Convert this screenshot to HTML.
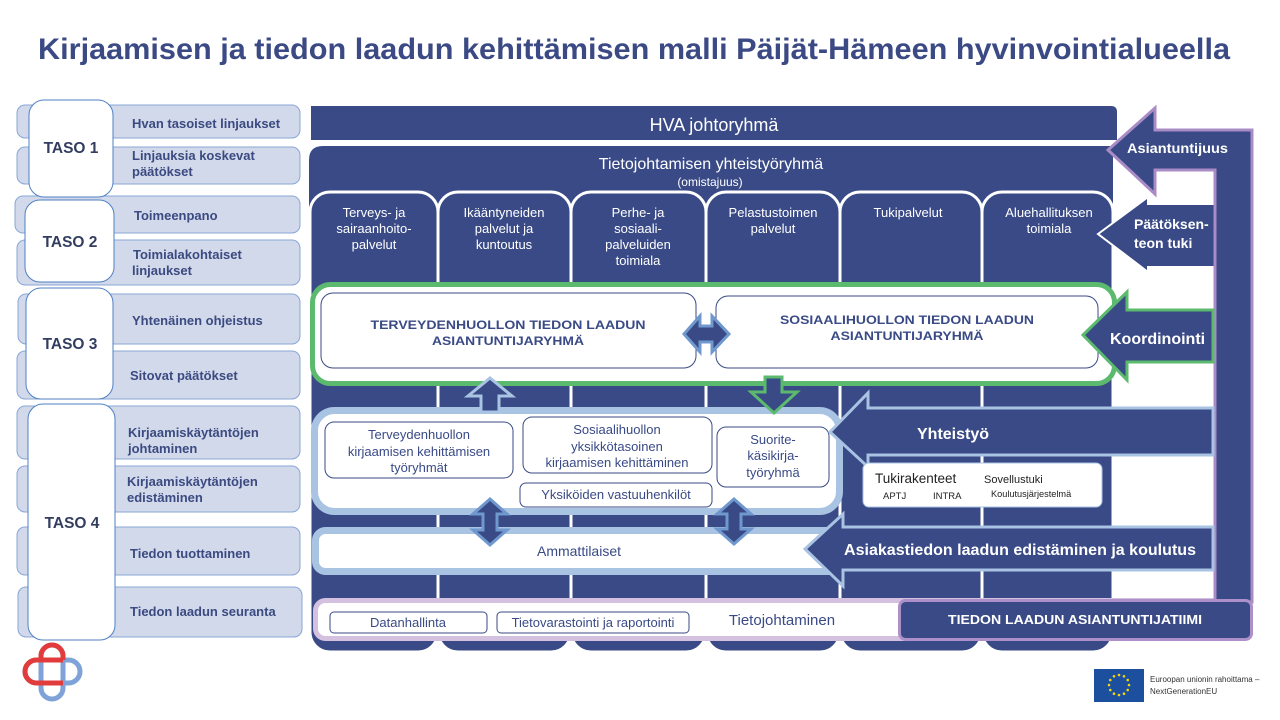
<!DOCTYPE html>
<html>
<head>
<meta charset="utf-8">
<style>
  html,body{margin:0;padding:0;background:#ffffff;}
  svg{display:block;}
  text{font-family:"Liberation Sans", Arial, sans-serif;}
</style>
</head>
<body>
<svg width="1280" height="720" viewBox="0 0 1280 720" xmlns="http://www.w3.org/2000/svg">
  <defs>
    <clipPath id="clipTop"><rect x="0" y="600" width="200" height="60"/></clipPath>
    <clipPath id="clipLeft"><rect x="0" y="600" width="63" height="120"/></clipPath>
  </defs>
  <rect x="0" y="0" width="1280" height="720" fill="#ffffff"/>

  <!-- Title -->
  <text x="38" y="59" font-size="30" font-weight="bold" fill="#3b4a84" textLength="1192" lengthAdjust="spacingAndGlyphs">Kirjaamisen ja tiedon laadun kehittämisen malli Päijät-Hämeen hyvinvointialueella</text>

  <!-- Left rows -->
  <g fill="#d2d9eb" stroke="#88a6d6" stroke-width="1">
    <rect x="17" y="105" width="283" height="33" rx="8"/>
    <rect x="17" y="147" width="283" height="37" rx="8"/>
    <rect x="15" y="196" width="285" height="37" rx="8"/>
    <rect x="17" y="240" width="283" height="45" rx="8"/>
    <rect x="18" y="294" width="282" height="50" rx="8"/>
    <rect x="17" y="351" width="283" height="48" rx="8"/>
    <rect x="17" y="406" width="283" height="53" rx="8"/>
    <rect x="17" y="466" width="283" height="46" rx="8"/>
    <rect x="17" y="527" width="283" height="48" rx="8"/>
    <rect x="18" y="587" width="284" height="50" rx="8"/>
  </g>
  <g font-size="13" font-weight="bold" fill="#3b4a80">
    <text x="132" y="128">Hvan tasoiset linjaukset</text>
    <text x="132" y="160">Linjauksia koskevat</text>
    <text x="132" y="176">päätökset</text>
    <text x="134" y="220">Toimeenpano</text>
    <text x="133" y="259">Toimialakohtaiset</text>
    <text x="132" y="275">linjaukset</text>
    <text x="132" y="325">Yhtenäinen ohjeistus</text>
    <text x="130" y="380">Sitovat päätökset</text>
    <text x="128" y="437">Kirjaamiskäytäntöjen</text>
    <text x="128" y="453">johtaminen</text>
    <text x="127" y="486">Kirjaamiskäytäntöjen</text>
    <text x="127" y="502">edistäminen</text>
    <text x="130" y="558">Tiedon tuottaminen</text>
    <text x="130" y="616">Tiedon laadun seuranta</text>
  </g>

  <!-- TASO boxes -->
  <g fill="#ffffff" stroke="#4f81c4" stroke-width="1">
    <rect x="29" y="100" width="84" height="97" rx="15"/>
    <rect x="25" y="200" width="89" height="82" rx="15"/>
    <rect x="26" y="288" width="87" height="111" rx="15"/>
    <rect x="28" y="404" width="87" height="236" rx="15"/>
  </g>
  <g font-size="15.5" font-weight="bold" fill="#333d60" text-anchor="middle">
    <text x="71" y="153">TASO 1</text>
    <text x="70" y="247">TASO 2</text>
    <text x="70" y="349">TASO 3</text>
    <text x="72" y="528">TASO 4</text>
  </g>

  <!-- Logo -->
  <g fill="none" stroke-width="5">
    <rect x="41" y="645" width="22" height="54" rx="11" stroke="#7fa3d8"/>
    <rect x="25" y="660" width="55" height="23" rx="11.5" stroke="#7fa3d8"/>
    <rect x="41" y="645" width="22" height="54" rx="11" stroke="#e23b3b" clip-path="url(#clipTop)" />
    <rect x="25" y="660" width="55" height="23" rx="11.5" stroke="#e23b3b" clip-path="url(#clipLeft)"/>
  </g>

  <!-- HVA johtoryhmä -->
  <path d="M311,106 H1111 Q1117,106 1117,112 V140 H311 Z" fill="#394a86"/>
  <text x="714" y="131" font-size="18" fill="#ffffff" text-anchor="middle">HVA johtoryhmä</text>

  <!-- Tietojohtamisen box -->
  <path d="M309,160 Q309,146 323,146 H1113 V300 H309 Z" fill="#394a86"/>
  <text x="711" y="169" font-size="16" fill="#ffffff" text-anchor="middle">Tietojohtamisen yhteistyöryhmä</text>
  <text x="710" y="186" font-size="12" fill="#ffffff" text-anchor="middle">(omistajuus)</text>

  <!-- Columns -->
  <g fill="#394a86" stroke="#ffffff" stroke-width="3">
    <rect x="310" y="192" width="128" height="460" rx="20"/>
    <rect x="438" y="192" width="133" height="460" rx="20"/>
    <rect x="571" y="192" width="135" height="460" rx="20"/>
    <rect x="706" y="192" width="134" height="460" rx="20"/>
    <rect x="840" y="192" width="142" height="460" rx="20"/>
    <rect x="982" y="192" width="131" height="460" rx="20"/>
  </g>
  <g font-size="13" fill="#ffffff" text-anchor="middle">
    <text x="374" y="217">Terveys- ja</text>
    <text x="374" y="233">sairaanhoito-</text>
    <text x="374" y="249">palvelut</text>
    <text x="504" y="217">Ikääntyneiden</text>
    <text x="504" y="233">palvelut ja</text>
    <text x="504" y="249">kuntoutus</text>
    <text x="638" y="217">Perhe- ja</text>
    <text x="638" y="233">sosiaali-</text>
    <text x="638" y="249">palveluiden</text>
    <text x="638" y="265">toimiala</text>
    <text x="773" y="217">Pelastustoimen</text>
    <text x="773" y="233">palvelut</text>
    <text x="908" y="217">Tukipalvelut</text>
    <text x="1049" y="217">Aluehallituksen</text>
    <text x="1049" y="233">toimiala</text>
  </g>

  <!-- Green box (TASO 3) -->
  <rect x="312.5" y="284.5" width="802" height="99" rx="18" fill="#ffffff" stroke="#5cba6f" stroke-width="5"/>
  <rect x="321" y="293" width="375" height="75" rx="12" fill="#ffffff" stroke="#394a86" stroke-width="1"/>
  <rect x="716" y="296" width="382" height="72" rx="12" fill="#ffffff" stroke="#394a86" stroke-width="1"/>
  <g font-size="12" font-weight="bold" fill="#394a86" text-anchor="middle">
    <text x="508" y="329" textLength="275" lengthAdjust="spacingAndGlyphs">TERVEYDENHUOLLON TIEDON LAADUN</text>
    <text x="508" y="345" textLength="152" lengthAdjust="spacingAndGlyphs">ASIANTUNTIJARYHMÄ</text>
    <text x="907" y="324" textLength="254" lengthAdjust="spacingAndGlyphs">SOSIAALIHUOLLON TIEDON LAADUN</text>
    <text x="907" y="340" textLength="153" lengthAdjust="spacingAndGlyphs">ASIANTUNTIJARYHMÄ</text>
  </g>
  <!-- horizontal double arrow -->
  <path d="M684,334 L700,316 L700,326 L712,326 L712,316 L729,334 L712,352 L712,342 L700,342 L700,352 Z" fill="#394a86" stroke="#6f98cf" stroke-width="3" stroke-linejoin="miter"/>

  <!-- Light blue box (TASO 4) -->
  <rect x="314.5" y="410.5" width="525" height="101" rx="20" fill="#ffffff" stroke="#a9c3e3" stroke-width="7"/>
  <g fill="#ffffff" stroke="#394a86" stroke-width="1">
    <rect x="325" y="422" width="188" height="56" rx="9"/>
    <rect x="523" y="417" width="189" height="56" rx="9"/>
    <rect x="717" y="427" width="112" height="60" rx="9"/>
    <rect x="520" y="483" width="192" height="24" rx="6"/>
  </g>
  <g font-size="13" fill="#394a86" text-anchor="middle">
    <text x="419" y="439">Terveydenhuollon</text>
    <text x="419" y="456">kirjaamisen kehittämisen</text>
    <text x="419" y="472">työryhmät</text>
    <text x="617" y="434">Sosiaalihuollon</text>
    <text x="617" y="451">yksikkötasoinen</text>
    <text x="617" y="467">kirjaamisen kehittäminen</text>
    <text x="773" y="444">Suorite-</text>
    <text x="773" y="460">käsikirja-</text>
    <text x="773" y="477">työryhmä</text>
    <text x="616" y="499">Yksiköiden vastuuhenkilöt</text>
  </g>

  <!-- Up arrow (light blue) -->
  <path d="M490,378 L512,396 L499,396 L499,412 L481,412 L481,396 L468,396 Z" fill="#394a86" stroke="#a9c3e3" stroke-width="3"/>
  <!-- Down arrow (green) -->
  <path d="M765,377 L782,377 L782,392 L797,392 L774,413 L751,392 L765,392 Z" fill="#394a86" stroke="#5cba6f" stroke-width="3"/>

  <!-- Ammattilaiset -->
  <rect x="315.5" y="530.5" width="530" height="41" rx="10" fill="#ffffff" stroke="#a9c3e3" stroke-width="7"/>
  <text x="579" y="556" font-size="14" fill="#394a86" text-anchor="middle">Ammattilaiset</text>

  <!-- Vertical double arrows -->
  <path d="M490,499 L507,514 L497,514 L497,530 L507,530 L490,545 L473,530 L483,530 L483,514 L473,514 Z" fill="#394a86" stroke="#6f98cf" stroke-width="3"/>
  <path d="M734,499 L751,514 L741,514 L741,529 L751,529 L734,544 L717,529 L727,529 L727,514 L717,514 Z" fill="#394a86" stroke="#6f98cf" stroke-width="3"/>

  <!-- Tietojohtaminen band -->
  <rect x="315.5" y="600.5" width="934" height="38" rx="10" fill="#ffffff" stroke="#d4c1df" stroke-width="5"/>
  <rect x="330" y="612" width="157" height="21" rx="4" fill="#ffffff" stroke="#394a86" stroke-width="1"/>
  <rect x="497" y="612" width="192" height="21" rx="4" fill="#ffffff" stroke="#394a86" stroke-width="1"/>
  <text x="408" y="627" font-size="13" fill="#394a86" text-anchor="middle">Datanhallinta</text>
  <text x="593" y="627" font-size="13" fill="#394a86" text-anchor="middle">Tietovarastointi ja raportointi</text>
  <text x="782" y="625" font-size="15" fill="#394a86" text-anchor="middle">Tietojohtaminen</text>

  <!-- Päätöksenteon tuki arrow -->
  <path d="M1098,234 L1148,197 L1148,204 L1216,204 L1216,267 L1148,267 L1148,272 Z" fill="#394a86" stroke="#ffffff" stroke-width="2"/>
  <text x="1134" y="229" font-size="14" font-weight="bold" fill="#ffffff">Päätöksen-</text>
  <text x="1134" y="248" font-size="14" font-weight="bold" fill="#ffffff">teon tuki</text>

  <!-- Big Asiantuntijuus bent arrow -->
  <path d="M1108,150 L1155,108 L1155,130 L1252,130 L1252,602 L1215,602 L1215,170 L1155,170 L1155,194 Z" fill="#394a86" stroke="#a98bc6" stroke-width="3" stroke-linejoin="miter"/>
  <text x="1127" y="153" font-size="14" font-weight="bold" fill="#ffffff" textLength="101" lengthAdjust="spacingAndGlyphs">Asiantuntijuus</text>

  <!-- Koordinointi arrow -->
  <path d="M1083,335 L1127,292 L1127,310 L1213,310 L1213,362 L1127,362 L1127,380 Z" fill="#394a86" stroke="#5cba6f" stroke-width="3"/>
  <text x="1110" y="344" font-size="16" font-weight="bold" fill="#ffffff">Koordinointi</text>

  <!-- Yhteistyö arrow -->
  <path d="M830,432 L868,393 L868,408 L1213,408 L1213,455 L868,455 L868,467 Z" fill="#394a86" stroke="#a9c3e3" stroke-width="3"/>
  <text x="917" y="439" font-size="16" font-weight="bold" fill="#ffffff">Yhteistyö</text>

  <!-- Tukirakenteet box -->
  <rect x="863" y="463" width="239" height="44" rx="6" fill="#ffffff" stroke="#a9c3e3" stroke-width="1"/>
  <text x="875" y="483" font-size="13.5" fill="#222222">Tukirakenteet</text>
  <text x="984" y="483" font-size="11" fill="#222222">Sovellustuki</text>
  <text x="883" y="499" font-size="9.5" fill="#222222">APTJ</text>
  <text x="933" y="499" font-size="9.5" fill="#222222">INTRA</text>
  <text x="991" y="497" font-size="9.2" fill="#222222">Koulutusjärjestelmä</text>

  <!-- Asiakastiedon arrow -->
  <path d="M805,549 L843,514 L843,527 L1213,527 L1213,570 L843,570 L843,586 Z" fill="#394a86" stroke="#a9c3e3" stroke-width="3"/>
  <text x="844" y="555" font-size="16" font-weight="bold" fill="#ffffff" textLength="352" lengthAdjust="spacingAndGlyphs">Asiakastiedon laadun edistäminen ja koulutus</text>

  <!-- Tiedon laadun asiantuntijatiimi -->
  <rect x="899.5" y="600.5" width="352" height="39" rx="6" fill="#394a86" stroke="#ad8fca" stroke-width="3"/>
  <text x="1075" y="624" font-size="12.5" font-weight="bold" fill="#ffffff" text-anchor="middle" textLength="254" lengthAdjust="spacingAndGlyphs">TIEDON LAADUN ASIANTUNTIJATIIMI</text>

  <!-- EU flag -->
  <rect x="1094" y="669" width="50" height="33" fill="#1d4f9f"/>
  <g fill="#f5d40a">
    <circle cx="1119" cy="675" r="1.3"/>
    <circle cx="1124" cy="676.3" r="1.3"/>
    <circle cx="1127.7" cy="680" r="1.3"/>
    <circle cx="1129" cy="685" r="1.3"/>
    <circle cx="1127.7" cy="690" r="1.3"/>
    <circle cx="1124" cy="693.7" r="1.3"/>
    <circle cx="1119" cy="695" r="1.3"/>
    <circle cx="1114" cy="693.7" r="1.3"/>
    <circle cx="1110.3" cy="690" r="1.3"/>
    <circle cx="1109" cy="685" r="1.3"/>
    <circle cx="1110.3" cy="680" r="1.3"/>
    <circle cx="1114" cy="676.3" r="1.3"/>
  </g>
  <text x="1150" y="682" font-size="8" fill="#333333">Euroopan unionin rahoittama –</text>
  <text x="1150" y="694" font-size="8" fill="#333333">NextGenerationEU</text>
</svg>
</body>
</html>
